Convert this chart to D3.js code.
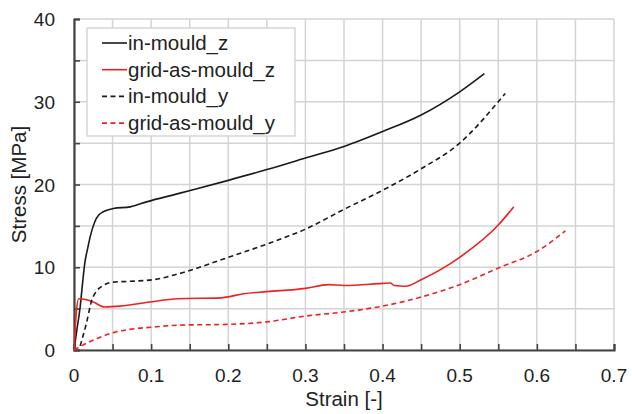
<!DOCTYPE html>
<html>
<head>
<meta charset="utf-8">
<script src="https://cdn.jsdelivr.net/npm/d3@7"></script>
<style>
  body { margin: 0; background: #fff; }
  text { font-family: "Liberation Sans", Arial, sans-serif; fill: #222; }
</style>
</head>
<body>
<div id="wrapper"></div>
<script>
// series data: [strain, stress]
const inMouldZ = [
  [0, 0], [0.004, 2.6], [0.008, 5.2], [0.011, 8], [0.014, 10.5], [0.018, 12.4],
  [0.021, 13.7], [0.027, 15.5], [0.032, 16.3], [0.038, 16.7], [0.051, 17.1],
  [0.073, 17.3], [0.094, 17.9], [0.135, 18.9], [0.2, 20.5],
  [0.25, 21.8], [0.3, 23.2], [0.35, 24.6], [0.4, 26.4], [0.45, 28.4],
  [0.5, 31.2], [0.532, 33.4]
]
const gridZ = [
  [0, 0], [0.003, 4.5], [0.006, 6.2], [0.015, 6.1], [0.025, 5.8], [0.04, 5.2],
  [0.06, 5.3], [0.098, 5.8], [0.135, 6.2], [0.19, 6.3], [0.22, 6.8], [0.25, 7.05],
  [0.3, 7.45], [0.33, 7.9], [0.35, 7.8], [0.4, 8.05], [0.41, 8.1], [0.415, 7.8],
  [0.43, 7.7], [0.45, 8.5], [0.5, 11.2], [0.55, 15.1], [0.57, 17.3]
]
const inMouldY = [
  [0.008, 0.5], [0.016, 3.2], [0.023, 6.0], [0.03, 7.2], [0.038, 7.8],
  [0.051, 8.2], [0.073, 8.3], [0.103, 8.5], [0.135, 9.2], [0.2, 11.2], [0.25, 12.8],
  [0.3, 14.6], [0.35, 17.0], [0.4, 19.3], [0.45, 21.9], [0.5, 25.0],
  [0.55, 30.0], [0.559, 31.0]
]
const gridY = [
  [0, 0], [0.025, 1.2], [0.051, 2.1], [0.081, 2.6], [0.1, 2.75], [0.135, 3.0],
  [0.2, 3.1], [0.25, 3.4], [0.3, 4.1], [0.35, 4.6], [0.4, 5.3], [0.45, 6.4],
  [0.5, 7.9], [0.55, 9.9], [0.6, 11.9], [0.637, 14.4]
]

const seriesNames = ["in-mould_z", "grid-as-mould_z", "in-mould_y", "grid-as-mould_y"]
const seriesData = [inMouldZ, gridZ, inMouldY, gridY]
const seriesColors = ["#1a1a1a", "#ee2222", "#1a1a1a", "#ee2222"]
const seriesDashed = [false, false, true, true]

const xTicks = [0, 0.1, 0.2, 0.3, 0.4, 0.5, 0.6, 0.7]
const yTicks = [0, 10, 20, 30, 40]

// dimensions
const dimensions = {
  width: 632,
  height: 414,
  margin: { top: 19, right: 18, bottom: 64, left: 74 }
}
dimensions.boundedWidth = dimensions.width - dimensions.margin.left - dimensions.margin.right
dimensions.boundedHeight = dimensions.height - dimensions.margin.top - dimensions.margin.bottom

const wrapper = d3.select("#wrapper")
  .append("svg")
    .attr("width", dimensions.width)
    .attr("height", dimensions.height)

const bounds = wrapper.append("g")
  .attr("transform", `translate(${dimensions.margin.left},${dimensions.margin.top})`)

// scales
const xScale = d3.scaleLinear().domain([0, 0.7]).range([0, dimensions.boundedWidth])
const yScale = d3.scaleLinear().domain([0, 40]).range([dimensions.boundedHeight, 0])

// grid every 0.05 / 5
const xGrid = d3.range(0, 0.7001, 0.05)
const yGrid = d3.range(0, 40.001, 5)

bounds.append("g").selectAll("line")
  .data(xGrid)
  .join("line")
    .attr("x1", d => xScale(d)).attr("x2", d => xScale(d))
    .attr("y1", 0).attr("y2", dimensions.boundedHeight)
    .attr("stroke", "#d4d4d4").attr("stroke-width", 1.5)

bounds.append("g").selectAll("line")
  .data(yGrid)
  .join("line")
    .attr("x1", 0).attr("x2", dimensions.boundedWidth)
    .attr("y1", d => yScale(d)).attr("y2", d => yScale(d))
    .attr("stroke", "#d4d4d4").attr("stroke-width", 1.5)

// axes with inward ticks
const xAxis = bounds.append("g")
  .attr("transform", `translate(0,${dimensions.boundedHeight})`)
  .call(d3.axisBottom(xScale).tickValues(xGrid).tickSize(-6).tickFormat(""))
const yAxis = bounds.append("g")
  .call(d3.axisLeft(yScale).tickValues(yGrid).tickSize(-6).tickFormat(""))

;[xAxis, yAxis].forEach(ax => {
  ax.select(".domain").attr("stroke", "#444").attr("stroke-width", 2.2)
  ax.selectAll(".tick line").attr("stroke", "#444").attr("stroke-width", 1.6)
})

// tick labels
bounds.append("g").selectAll("text")
  .data(xTicks)
  .join("text")
    .attr("x", d => xScale(d))
    .attr("y", dimensions.boundedHeight + 32)
    .attr("text-anchor", "middle")
    .style("font-size", "19px")
    .text(d => d3.format("")(d))

bounds.append("g").selectAll("text")
  .data(yTicks)
  .join("text")
    .attr("x", -19)
    .attr("y", d => yScale(d) + 7)
    .attr("text-anchor", "end")
    .style("font-size", "19px")
    .text(d => d)

// axis titles
wrapper.append("text")
  .attr("x", dimensions.margin.left + dimensions.boundedWidth / 2)
  .attr("y", 406)
  .attr("text-anchor", "middle")
  .style("font-size", "20.5px")
  .text("Strain [-]")

wrapper.append("text")
  .attr("transform", `translate(26,${dimensions.margin.top + dimensions.boundedHeight / 2}) rotate(-90)`)
  .attr("text-anchor", "middle")
  .style("font-size", "20.5px")
  .text("Stress [MPa]")

// lines
const lineGenerator = d3.line()
  .x(d => xScale(d[0]))
  .y(d => yScale(d[1]))
  .curve(d3.curveMonotoneX)

bounds.append("g").selectAll("path")
  .data(seriesData)
  .join("path")
    .attr("d", lineGenerator)
    .attr("fill", "none")
    .attr("stroke", (d, i) => seriesColors[i])
    .attr("stroke-width", 1.6)
    .attr("stroke-dasharray", (d, i) => seriesDashed[i] ? "5,3.5" : null)

// legend
const legend = wrapper.append("g").attr("transform", "translate(87,28)")
legend.append("rect")
  .attr("width", 208).attr("height", 108)
  .attr("fill", "#fff").attr("stroke", "#cccccc").attr("stroke-width", 1.2)

const legendItems = legend.selectAll("g")
  .data(seriesNames)
  .join("g")
    .attr("transform", (d, i) => `translate(0,${15 + i * 26.7})`)

legendItems.append("line")
  .attr("x1", 15).attr("x2", 40)
  .attr("stroke", (d, i) => seriesColors[i])
  .attr("stroke-width", 1.6)
  .attr("stroke-dasharray", (d, i) => seriesDashed[i] ? "5,3.5" : null)

legendItems.append("text")
  .attr("x", 41)
  .attr("y", 7)
  .style("font-size", "20.5px")
  .text(d => d)
</script>
</body>
</html>
